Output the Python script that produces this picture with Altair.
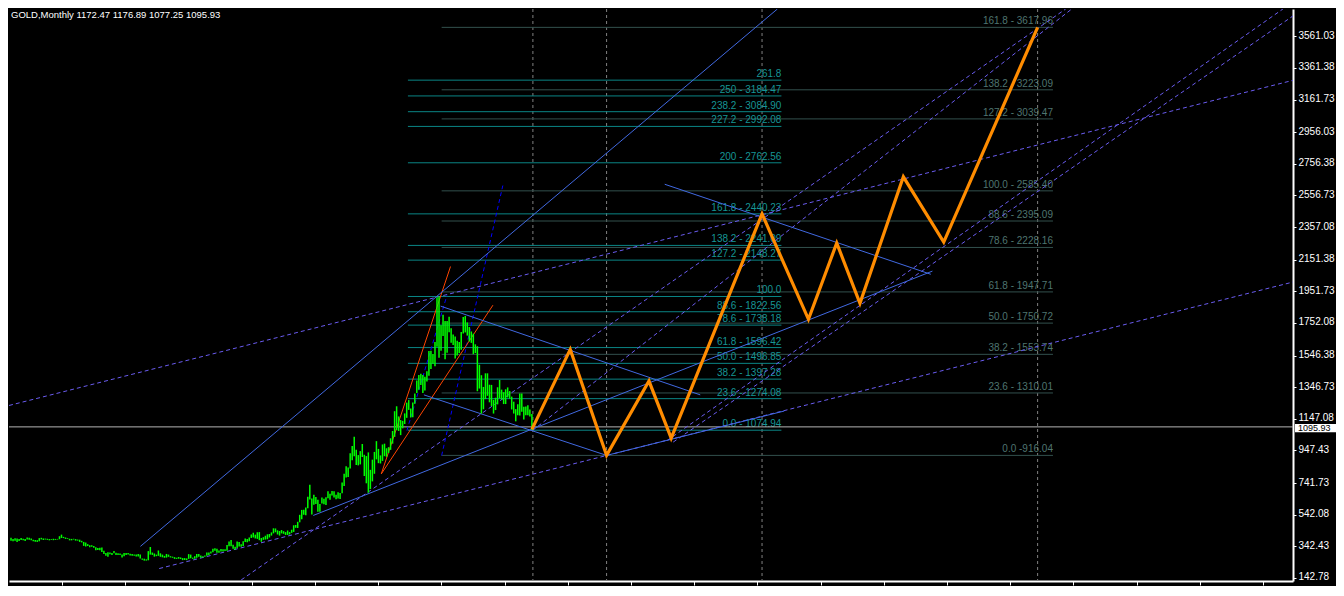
import altair as alt
import pandas as pd

TITLE = "GOLD,Monthly  1172.47 1176.89 1077.25 1095.93"
LAST_PRICE = 1095.93

# monthly bars, Jan 1994 .. Jul 2015 (index 0 = first bar)
bar_high = [
    396, 389, 393, 391, 389, 395, 390, 388, 398, 396, 392, 384,
    382, 381, 394, 396, 392, 391, 390, 388, 387, 390, 389, 389,
    406, 416, 402, 398, 394, 390, 389, 390, 388, 385, 384, 377,
    370, 366, 356, 349, 349, 345, 336, 331, 333, 335, 314, 300,
    305, 304, 300, 313, 302, 298, 297, 290, 300, 300, 300, 296,
    293, 291, 290, 293, 290, 266, 264, 260, 312, 338, 303, 297,
    290, 316, 298, 290, 282, 294, 290, 280, 277, 274, 270, 275,
    272, 268, 268, 266, 293, 290, 271, 280, 294, 293, 285, 280,
    285, 303, 304, 310, 327, 330, 327, 316, 326, 324, 323, 350,
    372, 382, 352, 340, 373, 370, 355, 375, 391, 388, 398, 417,
    428, 416, 431, 432, 395, 400, 409, 418, 420, 430, 456, 455,
    443, 439, 445, 438, 432, 442, 432, 447, 475, 477, 497, 541,
    572, 573, 588, 655, 730, 644, 668, 653, 636, 609, 650, 643,
    652, 690, 674, 692, 690, 668, 683, 679, 745, 800, 848, 840,
    930, 975, 1033, 951, 918, 943, 988, 920, 912, 935, 825, 889,
    938, 1006, 957, 916, 985, 990, 961, 968, 1024, 1070, 1195, 1226,
    1162, 1139, 1134, 1181, 1249, 1265, 1212, 1250, 1307, 1388, 1424, 1431,
    1424, 1413, 1447, 1575, 1577, 1556, 1632, 1913, 1921, 1737, 1804, 1764,
    1764, 1791, 1718, 1679, 1667, 1640, 1631, 1695, 1790, 1796, 1755, 1726,
    1698, 1684, 1617, 1605, 1488, 1422, 1348, 1434, 1434, 1362, 1361, 1267,
    1280, 1346, 1392, 1331, 1315, 1333, 1345, 1322, 1287, 1255, 1208, 1238,
    1307, 1307, 1223, 1225, 1232, 1205, 1177,
]
bar_low = [
    377, 375, 377, 370, 376, 382, 380, 376, 386, 384, 381, 375,
    371, 370, 374, 386, 382, 385, 383, 380, 382, 381, 383, 385,
    387, 395, 394, 389, 389, 380, 380, 385, 378, 378, 370, 367,
    345, 341, 344, 337, 340, 334, 318, 319, 318, 306, 294, 283,
    276, 292, 287, 299, 288, 287, 288, 272, 280, 288, 290, 284,
    283, 282, 278, 278, 265, 257, 252, 252, 254, 290, 288, 277,
    280, 282, 276, 273, 270, 271, 276, 272, 270, 263, 263, 264,
    262, 255, 256, 255, 263, 267, 263, 264, 270, 276, 270, 272,
    276, 282, 287, 297, 305, 315, 302, 301, 310, 309, 313, 315,
    343, 343, 327, 320, 331, 341, 339, 344, 370, 368, 374, 395,
    398, 392, 389, 381, 371, 383, 385, 387, 398, 410, 424, 431,
    417, 410, 424, 421, 414, 414, 417, 427, 433, 459, 458, 494,
    513, 541, 538, 583, 637, 543, 605, 610, 560, 560, 612, 608,
    603, 645, 636, 663, 651, 640, 644, 641, 677, 723, 776, 780,
    834, 885, 911, 855, 853, 859, 906, 786, 740, 681, 704, 752,
    800, 891, 867, 865, 881, 911, 907, 931, 951, 990, 1033, 1075,
    1070, 1044, 1087, 1114, 1153, 1203, 1155, 1157, 1242, 1310, 1330, 1360,
    1309, 1326, 1382, 1419, 1462, 1495, 1478, 1601, 1532, 1577, 1670, 1522,
    1563, 1693, 1627, 1612, 1527, 1547, 1562, 1583, 1685, 1692, 1672, 1635,
    1626, 1555, 1562, 1321, 1338, 1180, 1207, 1271, 1292, 1251, 1227, 1180,
    1202, 1238, 1277, 1268, 1240, 1240, 1282, 1274, 1206, 1180, 1131, 1170,
    1167, 1191, 1142, 1169, 1170, 1162, 1077,
]

# projected zig-zag (bar index, price)
zig_x = [258, 277, 295, 316, 327, 372, 395, 409, 420.5, 442, 462, 508.5]
zig_y = [1080, 1585, 916, 1385, 1025, 2440, 1775, 2256, 1876, 2674, 2262, 3617]

# vertical separators (bar index)
vlines = [258.5, 295, 372, 508.5]

# y-axis tick values
y_ticks = [142.78, 342.43, 542.08, 741.73, 947.43, 1147.08, 1346.73, 1546.38,
           1752.08, 1951.73, 2151.38, 2357.08, 2556.73, 2756.38, 2956.03,
           3161.73, 3361.38, 3561.03]
x_ticks = [25.4, 56.7, 88.0, 119.3, 150.6, 181.9, 213.2, 244.5, 275.8, 307.1,
           338.4, 369.7, 401.0, 432.3, 463.6, 494.9, 526.2, 557.5, 588.8, 620.1]

# Fibonacci set A
fibA_price = [1074.94, 1274.08, 1397.28, 1496.85, 1596.42, 1738.18, 1822.56,
              1918.75, 2148.27, 2241.09, 2440.23, 2762.56, 2992.08, 3084.90,
              3184.47, 3284.04]
fibA_text = ["0.0 - 1074.94", "23.6 - 1274.08", "38.2 - 1397.28", "50.0 - 1496.85",
             "61.8 - 1596.42", "78.6 - 1738.18", "88.6 - 1822.56", "100.0",
             "127.2 - 2148.27", "138.2 - 2241.09", "161.8 - 2440.23",
             "200 - 2762.56", "227.2 - 2992.08", "238.2 - 3084.90",
             "250 - 3184.47", "261.8"]
fibA_range = [196.6, 381.6]

# Fibonacci set B
fibB_price = [916.04, 1310.01, 1553.74, 1750.72, 1947.71, 2228.16, 2395.09,
              2585.40, 3039.47, 3223.09, 3617.06]
fibB_text = ["0.0 -916.04", "23.6 - 1310.01", "38.2 - 1553.74", "50.0 - 1750.72",
             "61.8 - 1947.71", "78.6 - 2228.16", "88.6 - 2395.09",
             "100.0 - 2585.40", "127.2 - 3039.47", "138.2 - 3223.09",
             "161.8 - 3617.96"]
fibB_range = [213.3, 516.1]

# trend lines: (bar1, price1, bar2, price2)
solid_lines = [
    (64.1, 342, 379.6, 3733),
    (323.8, 2627, 455.6, 2059),
    (149.7, 537, 456.4, 2079),
    (212.8, 1858, 341.4, 1298),
    (204.5, 1298, 295, 916),
    (295, 916, 383, 1196),
]
dashed_lines = [
    (-1, 1231, 635, 3283),
    (73.4, 202, 635, 2010),
    (114, 130, 522.4, 3733),
    (258.3, 1073, 525.4, 3733),
    (325, 1010, 630, 3733),
    (328, 1000, 640, 3733),
]
red_lines = [
    (183.4, 799, 217.7, 2108),
    (183.4, 799, 238.7, 1864),
]
blue_dot_lines = [
    (213.3, 915, 243.6, 2619),
    (196.1, 1073, 215.9, 1925),
]

X_DOMAIN = [-1, 635]
Y_DOMAIN = [123.4, 3733]
W, H = 1284, 572

xs = alt.Scale(domain=X_DOMAIN, nice=False, zero=False)
ys = alt.Scale(domain=Y_DOMAIN, nice=False, zero=False)
AX = alt.Axis(values=x_ticks, labels=False, ticks=True, tickColor="white",
              tickSize=4, domainColor="white", domainWidth=2, grid=False, title=None)
AY = alt.Axis(values=y_ticks, orient="right", format=".2f", labelColor="white",
              labelFont="Liberation Sans", labelFontSize=10, tickColor="white",
              tickSize=3, labelPadding=2, labelOffset=-1, domainColor="white",
              domainWidth=2, grid=False, title=None)

bars = pd.DataFrame({"i": list(range(len(bar_high))), "high": bar_high, "low": bar_low})
bar_layer = alt.Chart(bars).mark_rule(color="#00ff00", strokeWidth=1.5).encode(
    x=alt.X("i:Q", scale=xs, axis=AX),
    y=alt.Y("low:Q", scale=ys, axis=AY),
    y2="high:Q",
)


def seg_layer(segs, color, width=1.0, dash=None):
    df = pd.DataFrame(segs, columns=["x1", "y1", "x2", "y2"])
    kw = dict(color=color, strokeWidth=width, clip=True)
    if dash:
        kw["strokeDash"] = dash
    return alt.Chart(df).mark_rule(**kw).encode(
        x=alt.X("x1:Q", scale=xs, axis=AX),
        y=alt.Y("y1:Q", scale=ys, axis=AY),
        x2="x2:Q", y2="y2:Q",
    )


def fib_layers(prices, texts, rng, line_color, text_color):
    df = pd.DataFrame({"p": prices, "t": texts, "a": rng[0], "b": rng[1]})
    lines = alt.Chart(df).mark_rule(color=line_color, strokeWidth=1).encode(
        x=alt.X("a:Q", scale=xs, axis=AX), x2="b:Q",
        y=alt.Y("p:Q", scale=ys, axis=AY),
    )
    labels = alt.Chart(df).mark_text(
        align="right", baseline="bottom", dy=-1, color=text_color,
        font="Liberation Sans", fontSize=10,
    ).encode(
        x=alt.X("b:Q", scale=xs, axis=AX),
        y=alt.Y("p:Q", scale=ys, axis=AY),
        text="t:N",
    )
    return [lines, labels]


vdf = pd.DataFrame({"v": vlines})
vert_layer = alt.Chart(vdf).mark_rule(color="#808080", strokeWidth=1, strokeDash=[3, 3]).encode(
    x=alt.X("v:Q", scale=xs, axis=AX)
)

last_layer = alt.Chart(pd.DataFrame({"p": [LAST_PRICE]})).mark_rule(
    color="#b4b4b4", strokeWidth=1).encode(y=alt.Y("p:Q", scale=ys, axis=AY))

zig = pd.DataFrame({"x": zig_x, "y": zig_y, "o": list(range(len(zig_x)))})
zig_layer = alt.Chart(zig).mark_line(color="#ff8c00", strokeWidth=3.2, clip=True).encode(
    x=alt.X("x:Q", scale=xs, axis=AX),
    y=alt.Y("y:Q", scale=ys, axis=AY),
    order="o:Q",
)

title_layer = alt.Chart(pd.DataFrame({"t": [TITLE]})).mark_text(
    align="left", baseline="top", color="white", font="Liberation Sans", fontSize=9.5,
).encode(x=alt.value(2), y=alt.value(1), text="t:N")

box_layer = alt.Chart(pd.DataFrame({"a": [LAST_PRICE + 18], "b": [LAST_PRICE - 34]})).mark_rect(
    color="white").encode(
    x=alt.value(W + 2), x2=alt.value(W + 43),
    y=alt.Y("a:Q", scale=ys, axis=AY), y2="b:Q",
)
box_text = alt.Chart(pd.DataFrame({"p": [LAST_PRICE - 8], "t": ["1095.93"]})).mark_text(
    align="left", baseline="middle", color="black", font="Liberation Sans", fontSize=9,
).encode(x=alt.value(W + 5), y=alt.Y("p:Q", scale=ys, axis=AY), text="t:N")

layers = (
    [vert_layer]
    + fib_layers(fibB_price, fibB_text, fibB_range, "#32504d", "#4f7570")
    + fib_layers(fibA_price, fibA_text, fibA_range, "#0a8585", "#169595")
    + [last_layer,
       seg_layer(dashed_lines, "#6a5cf0", 1, [4, 3]),
       seg_layer(blue_dot_lines, "#0000ff", 1, [4, 3]),
       seg_layer(red_lines, "#ff4500", 1),
       seg_layer(solid_lines, "#4169e1", 1),
       bar_layer, zig_layer, title_layer, box_layer, box_text]
)

chart = alt.layer(*layers).properties(
    width=W, height=H, background="black",
    padding={"left": 0, "top": 0, "right": 0, "bottom": 0},
).configure_view(strokeWidth=0)

chart.save("out.html", embed_options={"renderer": "svg", "actions": False})
